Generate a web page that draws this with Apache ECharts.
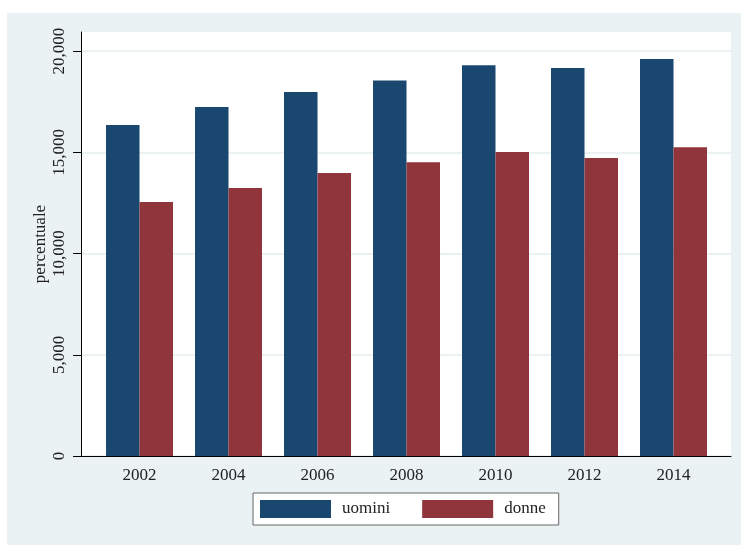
<!DOCTYPE html>
<html>
<head>
<meta charset="utf-8">
<script src="https://cdn.jsdelivr.net/npm/echarts@6/dist/echarts.min.js"></script>
<style>
  html, body { margin: 0; padding: 0; background: #ffffff; }
  #chart { width: 741px; height: 545px; }
</style>
</head>
<body>
<div id="chart"></div>
<script>
// Years shown on the horizontal axis
const years = [2002, 2004, 2006, 2008, 2010, 2012, 2014];
// Values per year
const uomini = [16350, 17240, 17975, 18540, 19300, 19160, 19610];
const donne  = [12550, 13230, 13975, 14510, 15010, 14720, 15250];
// Vertical axis ticks
const yTicks = [0, 5000, 10000, 15000, 20000];

const FONT = '"Liberation Serif", "DejaVu Serif", serif';
const NAVY = '#1A476F';
const MAROON = '#90353B';
const BLUISH = '#EAF2F3';

const chart = echarts.init(document.getElementById('chart'), null, { renderer: 'canvas' });

const fmt = v => v.toLocaleString('en-US');

chart.setOption({
  backgroundColor: '#ffffff',
  animation: false,
  graphic: [{
    type: 'rect',
    z: -10,
    silent: true,
    shape: { x: 7, y: 13, width: 734, height: 532 },
    style: { fill: BLUISH }
  }],
  grid: {
    left: 81, top: 32, width: 650, height: 424,
    show: true, backgroundColor: '#ffffff', borderWidth: 0
  },
  legend: {
    top: 493,
    left: 253,
    itemWidth: 71,
    itemHeight: 18,
    itemGap: 32,
    padding: [7, 13, 7, 7],
    backgroundColor: '#ffffff',
    borderColor: '#666666',
    borderWidth: 1,
    borderRadius: 0,
    icon: 'rect',
    textStyle: { fontFamily: FONT, fontSize: 17, color: '#222222', padding: [0, 0, 0, 6], width: 52 },
    data: ['uomini', 'donne']
  },
  xAxis: {
    type: 'value',
    min: 2000.685,
    max: 2015.292,
    splitLine: { show: false },
    axisLine: { show: true, lineStyle: { color: '#000000', width: 1 } },
    axisTick: { show: false },
    axisLabel: {
      customValues: years,
      fontFamily: FONT, fontSize: 17, color: '#222222', margin: 11,
      formatter: v => String(v)
    }
  },
  yAxis: {
    type: 'value',
    min: 0,
    max: 20940,
    interval: 5000,
    name: 'percentuale',
    nameLocation: 'middle',
    nameRotate: 90,
    nameGap: 32,
    nameMoveOverlap: false,
    nameTextStyle: { fontFamily: FONT, fontSize: 17, color: '#222222' },
    axisLine: { show: true, lineStyle: { color: '#000000', width: 1 } },
    axisTick: { show: true, length: 8, lineStyle: { color: '#000000' }, customValues: yTicks },
    axisLabel: {
      customValues: yTicks,
      rotate: 90,
      margin: 13,
      fontFamily: FONT, fontSize: 17, color: '#222222',
      formatter: v => fmt(v)
    },
    splitLine: { show: true, lineStyle: { color: BLUISH, width: 2 } }
  },
  series: [
    {
      name: 'uomini', type: 'bar',
      barWidth: 33.5, barGap: '0%',
      itemStyle: { color: NAVY },
      data: years.map((y, i) => [y, uomini[i]])
    },
    {
      name: 'donne', type: 'bar',
      barWidth: 33.5, barGap: '0%',
      itemStyle: { color: MAROON },
      data: years.map((y, i) => [y, donne[i]])
    }
  ]
});
</script>
</body>
</html>
